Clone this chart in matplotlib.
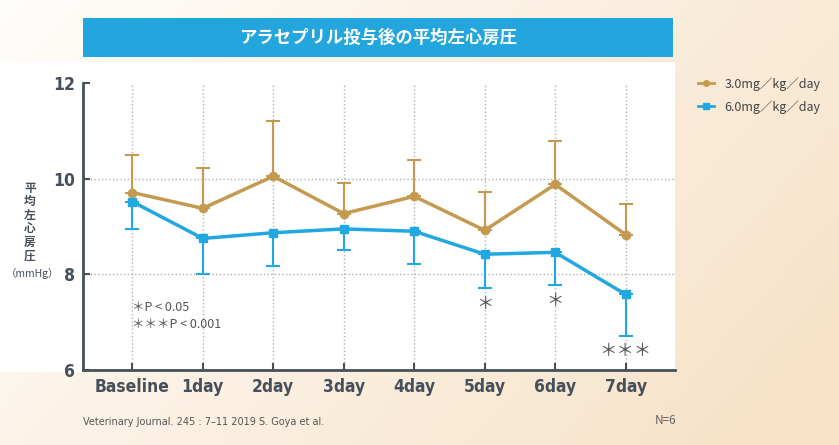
import numpy as np
import matplotlib.pyplot as plt
from matplotlib.patches import Rectangle
from matplotlib.lines import Line2D

plt.rcParams['font.family'] = ['Noto Sans CJK JP', 'DejaVu Sans']

# data
days = ['Baseline', '1day', '2day', '3day', '4day', '5day', '6day', '7day']
low_dose = [9.71, 9.38, 10.05, 9.27, 9.63, 8.92, 9.88, 8.83]
low_upper = [10.50, 10.22, 11.21, 9.90, 10.38, 9.73, 10.79, 9.46]
high_dose = [9.52, 8.75, 8.87, 8.95, 8.90, 8.42, 8.46, 7.58]
high_lower = [8.94, 8.00, 8.17, 8.50, 8.21, 7.71, 7.77, 6.71]
sig_marks = {5: '＊', 6: '＊', 7: '＊＊＊'}
yticks = [6, 8, 10, 12]

gold = '#C49A50'
blue = '#21A8E0'
dark = '#45505A'

W, H = 839, 445
fig = plt.figure(figsize=(W / 100, H / 100), dpi=100)

# background gradient
bg = fig.add_axes([0, 0, 1, 1])
gx, gy = np.meshgrid(np.linspace(0, 1, 200), np.linspace(0, 1, 100))
t = np.clip(0.75 * gx + 0.35 * gy, 0, 1)
c0 = np.array([1.0, 0.995, 0.985])
c1 = np.array([0.97, 0.89, 0.79])
img = c0 + (c1 - c0) * t[..., None]
bg.imshow(img, extent=[0, W, H, 0], aspect='auto')
bg.add_patch(Rectangle((0, 62), 675, 310, color='white', lw=0))
bg.set_xlim(0, W)
bg.set_ylim(H, 0)
bg.axis('off')

# title bar
bg.add_patch(Rectangle((83, 18), 590, 39, color='#22A6DD', lw=0))
bg.text(378, 38, 'アラセプリル投与後の平均左心房圧', color='white', fontsize=12.5,
        fontweight='bold', ha='center', va='center')

ax = fig.add_axes([83 / W, 1 - 370 / H, (675 - 83) / W, (370 - 83) / H])
ax.set_facecolor('white')
x = np.arange(len(days))

low_err = np.array(low_upper) - np.array(low_dose)
high_err = np.array(high_dose) - np.array(high_lower)

ax.errorbar(x, low_dose, yerr=[np.zeros(len(x)), low_err], color=gold, lw=2.5,
            marker='o', ms=6, ecolor=gold, elinewidth=1.5, capsize=5, capthick=1.5,
            zorder=3)
ax.errorbar(x, high_dose, yerr=[high_err, np.zeros(len(x))], color=blue, lw=2.5,
            marker='s', ms=6, ecolor=blue, elinewidth=1.5, capsize=5, capthick=1.5,
            zorder=4)

ax.set_xlim(-0.7, 7.7)
ax.set_ylim(6, 12)
ax.set_yticks(yticks)
ax.set_xticks(x)
ax.set_xticklabels(days)
ax.grid(True, axis='x', ls=':', color='#B0B0B0', lw=1)
for yv in yticks[1:-1]:
    ax.axhline(yv, ls=':', color='#B0B0B0', lw=1, zorder=1)
for s in ['top', 'right']:
    ax.spines[s].set_visible(False)
for s in ['left', 'bottom']:
    ax.spines[s].set_color(dark)
    ax.spines[s].set_linewidth(2)
ax.tick_params(direction='in', length=5, width=1.5, color=dark, pad=6)
for lab in ax.get_xticklabels() + ax.get_yticklabels():
    lab.set_family('DejaVu Sans')
    lab.set_stretch('condensed')
    lab.set_fontweight('bold')
    lab.set_fontsize(12.5)
    lab.set_color(dark)

for i, s in sig_marks.items():
    ax.annotate(s, (i, high_lower[i]), xytext=(0, -11), textcoords='offset points',
                ha='center', va='center', fontsize=12.5, color='#555555')

ax.text(0, 7.3, '＊P < 0.05', fontsize=9, color='#555555', va='center')
ax.text(0, 6.95, '＊＊＊P < 0.001', fontsize=9, color='#555555', va='center')

# y label stacked vertically
bg.text(30, 222, '平\n均\n左\n心\n房\n圧', fontsize=8.5, fontweight='bold', color=dark,
        ha='center', va='center', linespacing=1.05)
bg.text(32, 274, '（mmHg）', fontsize=7.5, color=dark, ha='center', va='center')

handles = [Line2D([], [], color=gold, lw=2, marker='o', ms=4),
           Line2D([], [], color=blue, lw=2, marker='s', ms=4)]
ax.legend(handles, ['3.0mg／kg／day', '6.0mg／kg／day'], loc='upper left',
          bbox_to_anchor=(1.02, 1.06), frameon=False, fontsize=9, handlelength=1.3,
          labelcolor='#444444', labelspacing=0.75)

bg.text(83, 422, 'Veterinary Journal. 245 : 7–11 2019 S. Goya et al.', fontsize=7,
        color='#555555', va='center', family='DejaVu Sans')
bg.text(676, 420, 'N=6', fontsize=8.5, color='#666666', ha='right', va='center')

fig.savefig('out.png', dpi=100)
